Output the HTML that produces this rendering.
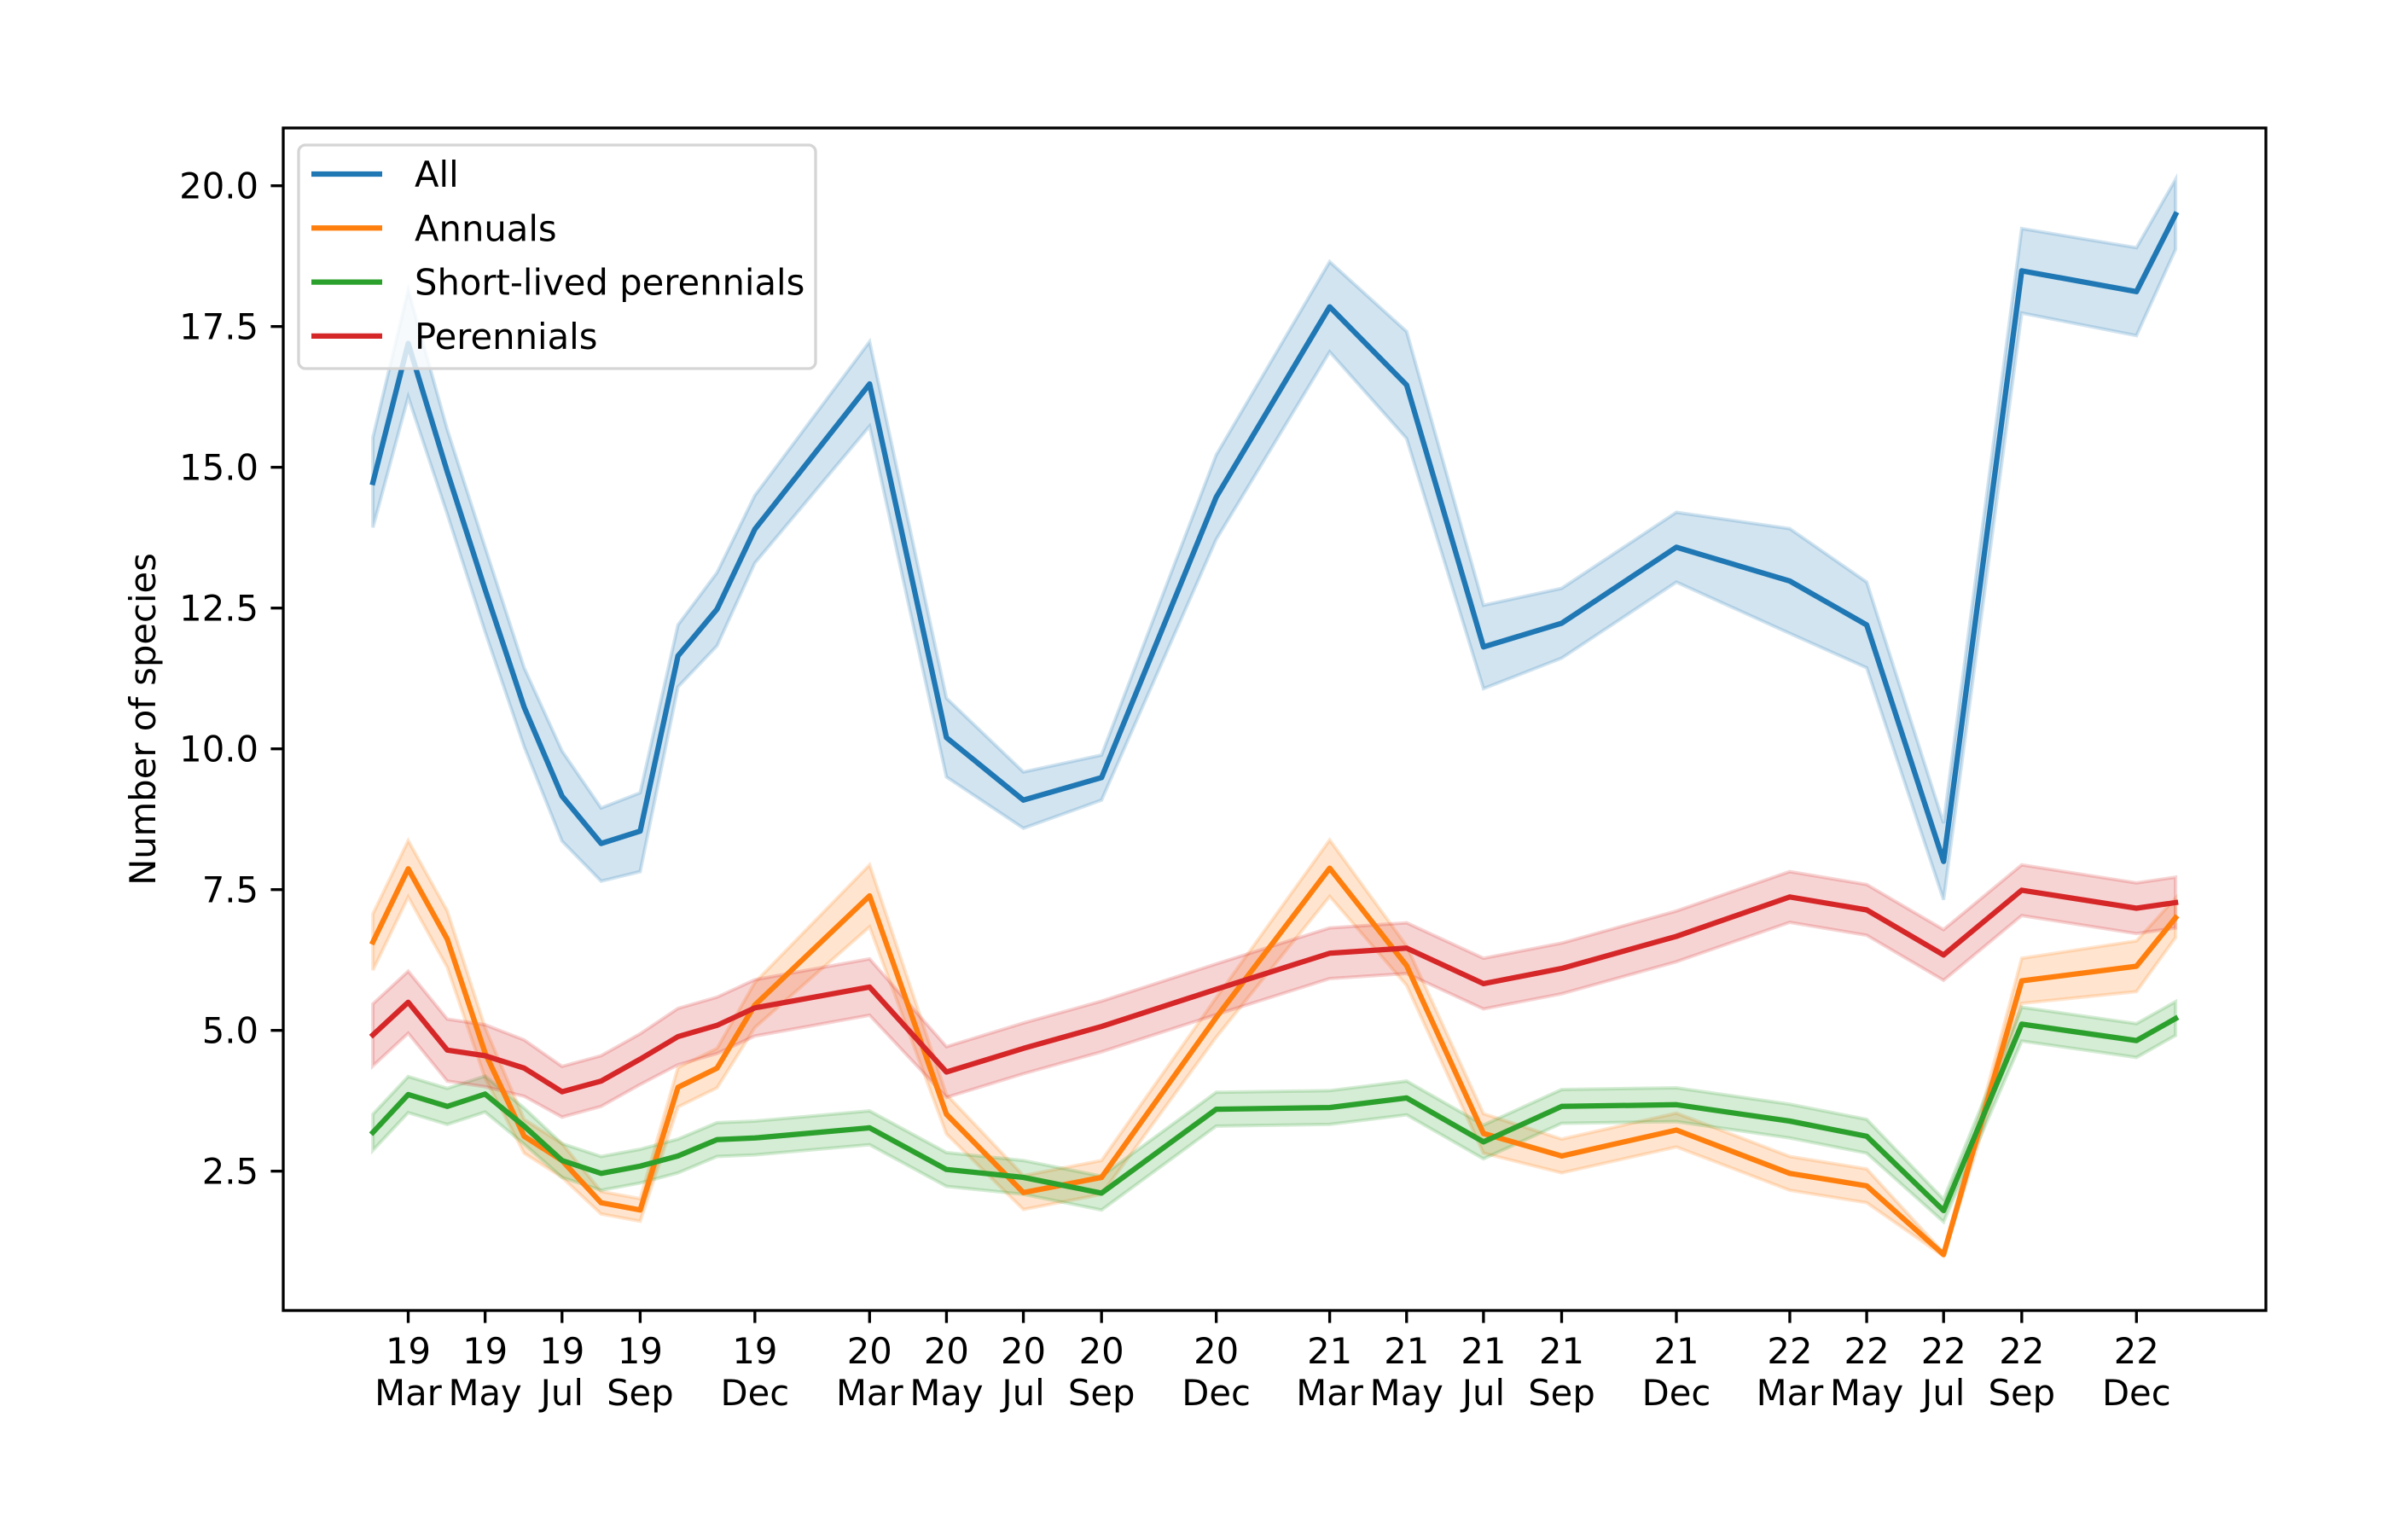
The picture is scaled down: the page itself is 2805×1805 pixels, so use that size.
<!DOCTYPE html>
<html><head><meta charset="utf-8"><style>
html,body{margin:0;padding:0;background:#fff;}
svg{display:block;font-family:"DejaVu Sans","Liberation Sans",sans-serif;}
</style></head><body>
<svg id="chart" width="2805" height="1805" viewBox="0 0 2805 1805" xmlns="http://www.w3.org/2000/svg">
<rect width="2805" height="1805" fill="#fff"/>
<g id="bands"></g><g id="lines"></g><g id="axes"></g><g id="legend"></g>
</svg>
<script>
const dates = ["2019-02-01","2019-03-01","2019-04-01","2019-05-01","2019-06-01","2019-07-01","2019-08-01","2019-09-01","2019-10-01","2019-11-01","2019-12-01","2020-03-01","2020-05-01","2020-07-01","2020-09-01","2020-12-01","2021-03-01","2021-05-01","2021-07-01","2021-09-01","2021-12-01","2022-03-01","2022-05-01","2022-07-01","2022-09-01","2022-12-01","2023-01-01"];
const allMean = [14.73,17.2,14.92,12.83,10.74,9.16,8.32,8.54,11.65,12.48,13.9,16.48,10.2,9.09,9.49,14.47,17.85,16.46,11.81,12.23,13.58,12.98,12.2,8.0,18.49,18.12,19.49];
const allLo = [13.93,16.25,14.17,12.08,10.04,8.36,7.65,7.82,11.1,11.83,13.3,15.73,9.5,8.59,9.09,13.72,17.05,15.51,11.07,11.61,12.96,12.05,11.44,7.32,17.74,17.34,18.87];
const allHi = [15.53,18.15,15.67,13.58,11.44,9.96,8.95,9.22,12.2,13.13,14.5,17.23,10.9,9.59,9.89,15.22,18.65,17.41,12.55,12.85,14.2,13.91,12.96,8.68,19.24,18.9,20.11];
const annMean = [6.57,7.87,6.62,4.6,3.12,2.69,1.94,1.81,3.99,4.33,5.45,7.39,3.51,2.12,2.39,5.23,7.88,6.15,3.17,2.77,3.23,2.46,2.24,1.02,5.88,6.14,7.0];
const annLo = [6.07,7.37,6.12,4.15,2.82,2.39,1.74,1.61,3.64,3.98,5.05,6.84,3.16,1.82,2.09,4.88,7.38,5.8,2.82,2.47,2.93,2.16,1.94,0.99,5.48,5.69,6.65];
const annHi = [7.07,8.37,7.12,5.05,3.42,2.99,2.14,2.01,4.34,4.68,5.85,7.94,3.86,2.42,2.69,5.58,8.38,6.5,3.52,3.07,3.53,2.76,2.54,1.05,6.28,6.59,7.35];
const slpMean = [3.19,3.86,3.65,3.87,3.3,2.69,2.46,2.59,2.77,3.06,3.09,3.27,2.53,2.39,2.11,3.6,3.63,3.8,3.02,3.65,3.68,3.39,3.12,1.8,5.11,4.82,5.21];
const slpLo = [2.87,3.54,3.33,3.55,2.98,2.39,2.16,2.29,2.47,2.76,2.79,2.97,2.23,2.09,1.81,3.3,3.33,3.5,2.72,3.35,3.38,3.09,2.82,1.6,4.81,4.52,4.91];
const slpHi = [3.51,4.18,3.97,4.19,3.62,2.99,2.76,2.89,3.07,3.36,3.39,3.57,2.83,2.69,2.41,3.9,3.93,4.1,3.32,3.95,3.98,3.69,3.42,2.0,5.41,5.12,5.51];
const perMean = [4.92,5.5,4.65,4.55,4.33,3.91,4.1,4.49,4.89,5.09,5.4,5.77,4.26,4.68,5.07,5.73,6.37,6.46,5.83,6.1,6.67,7.37,7.14,6.34,7.49,7.17,7.27];
const perLo = [4.37,4.95,4.1,4.0,3.83,3.46,3.65,4.04,4.39,4.59,4.9,5.27,3.81,4.23,4.62,5.28,5.92,6.01,5.38,5.65,6.22,6.92,6.69,5.89,7.04,6.72,6.82];
const perHi = [5.47,6.05,5.2,5.1,4.83,4.36,4.55,4.94,5.39,5.59,5.9,6.27,4.71,5.13,5.52,6.18,6.82,6.91,6.28,6.55,7.12,7.82,7.59,6.79,7.94,7.62,7.72];
const seriesNames = ["All","Annuals","Short-lived perennials","Perennials"];
const yTicks = [2.5,5.0,7.5,10.0,12.5,15.0,17.5,20.0];
const xTickDates = ["2019-03-01","2019-05-01","2019-07-01","2019-09-01","2019-12-01","2020-03-01","2020-05-01","2020-07-01","2020-09-01","2020-12-01","2021-03-01","2021-05-01","2021-07-01","2021-09-01","2021-12-01","2022-03-01","2022-05-01","2022-07-01","2022-09-01","2022-12-01"];
const xTickYears = ["19","19","19","19","19","20","20","20","20","20","21","21","21","21","21","22","22","22","22","22"];
const xTickMonths = ["Mar","May","Jul","Sep","Dec","Mar","May","Jul","Sep","Dec","Mar","May","Jul","Sep","Dec","Mar","May","Jul","Sep","Dec"];

const NS="http://www.w3.org/2000/svg";
const L=332,R=2656,T=150,B=1536;
const t0=Date.UTC(2019,2,1);
function xs(d){const p=d.split("-");const t=Date.UTC(+p[0],+p[1]-1,+p[2]);return 478.5+(t-t0)/86400000*1.4776;}
function ys(v){return 217.7+(20-v)*66.0;}
function mk(tag,attrs,parent){const e=document.createElementNS(NS,tag);for(const k in attrs)e.setAttribute(k,attrs[k]);parent.appendChild(e);return e;}
const bands=document.getElementById("bands"),lines=document.getElementById("lines"),axes=document.getElementById("axes"),legend=document.getElementById("legend");
const colors=["#1f77b4","#ff7f0e","#2ca02c","#d62728"];
const keys=["all","annuals","short-lived-perennials","perennials"];
const data=[[allMean,allLo,allHi],[annMean,annLo,annHi],[slpMean,slpLo,slpHi],[perMean,perLo,perHi]];
data.forEach((s,i)=>{
  const [m,lo,hi]=s;
  let d="M"+dates.map((dt,j)=>xs(dt).toFixed(1)+","+ys(hi[j]).toFixed(1)).join("L");
  for(let j=dates.length-1;j>=0;j--) d+="L"+xs(dates[j]).toFixed(1)+","+ys(lo[j]).toFixed(1);
  d+="Z";
  const b=mk("path",{d:d,fill:colors[i],"fill-opacity":"0.2",stroke:colors[i],"stroke-opacity":"0.2","stroke-width":"4"},bands);
  
  
  const ln=mk("path",{d:"M"+dates.map((dt,j)=>xs(dt).toFixed(1)+","+ys(m[j]).toFixed(1)).join("L"),fill:"none",stroke:colors[i],"stroke-width":"6.25","stroke-linejoin":"round","stroke-linecap":"square"},lines);
  
  
});
const fr=mk("rect",{x:L,y:T,width:R-L,height:B-T,fill:"none",stroke:"#000","stroke-width":"3.33"},axes);


yTicks.forEach(v=>{
  const y=ys(v);
  const tk=mk("line",{x1:L-14.6,x2:L,y1:y,y2:y,stroke:"#000","stroke-width":"3.33"},axes);
  
  
  const tx=mk("text",{x:L-29,y:y+15,"text-anchor":"end","font-size":"41.7",fill:"#000"},axes);
  tx.textContent=v.toFixed(1);
  
  
});
xTickDates.forEach((dt,i)=>{
  const x=xs(dt);
  const tk=mk("line",{x1:x,x2:x,y1:B,y2:B+14.6,stroke:"#000","stroke-width":"3.33"},axes);
  
  
  const t1=mk("text",{x:x,y:1598,"text-anchor":"middle","font-size":"41.7",fill:"#000"},axes);
  t1.textContent=xTickYears[i];
  
  
  const t2=mk("text",{x:x,y:1647,"text-anchor":"middle","font-size":"41.7",fill:"#000"},axes);
  t2.textContent=xTickMonths[i];
  
  
});
const yl=mk("text",{x:0,y:0,"text-anchor":"middle","font-size":"41.7",fill:"#000",transform:"translate(182,843) rotate(-90)"},axes);
yl.textContent="Number of species";


const lb=mk("rect",{x:350,y:170,width:606,height:262,rx:8,fill:"#fff","fill-opacity":"0.8",stroke:"#d5d5d5","stroke-width":"3.33"},legend);


seriesNames.forEach((n,i)=>{
  const y=204+i*63.3;
  const g=mk("g",{},legend);
  
  
  mk("line",{x1:365,x2:448,y1:y,y2:y,stroke:colors[i],"stroke-width":"6.25"},g);
  const t=mk("text",{x:486,y:y+15,"font-size":"41.7",fill:"#000"},g);
  t.textContent=n;
});
</script>
</body></html>
